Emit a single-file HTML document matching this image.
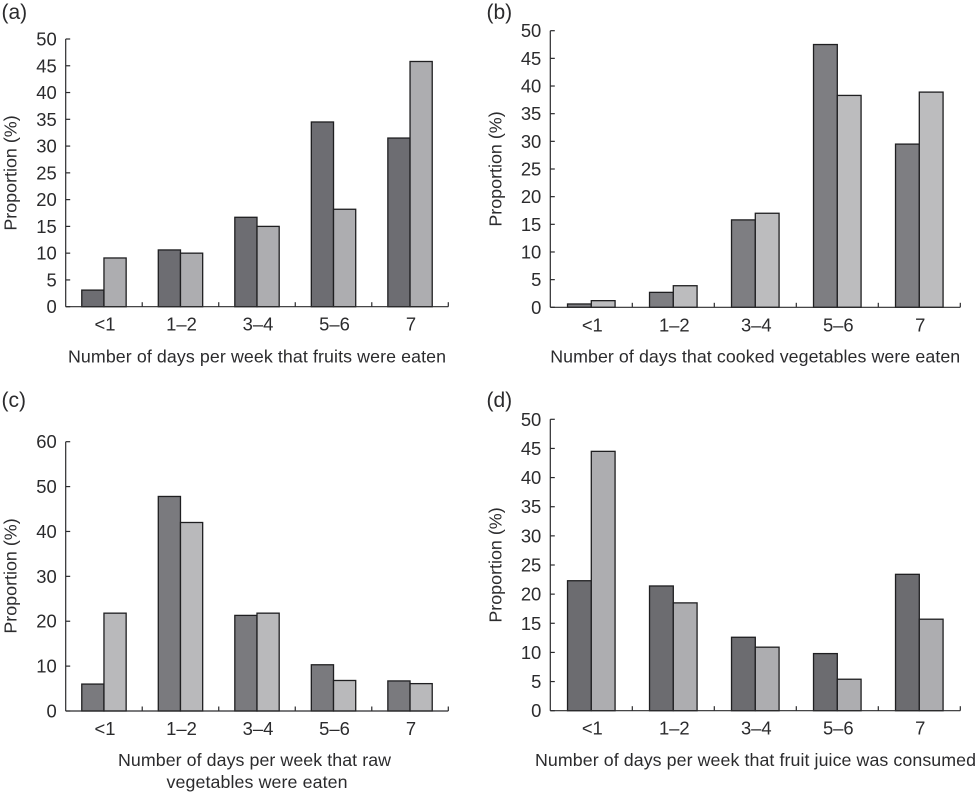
<!DOCTYPE html>
<html lang="en">
<head>
<meta charset="utf-8">
<title>Proportion of days per week foods were eaten</title>
<style>
html,body{margin:0;padding:0;background:#fff;width:977px;height:792px;overflow:hidden}
svg{display:block}
text{font-family:"Liberation Sans",sans-serif;fill:#2b2b2d}
</style>
</head>
<body>
<svg id="figure" xmlns="http://www.w3.org/2000/svg" width="977" height="792" viewBox="0 0 977 792"></svg>
<script>
const categories = ['<1', '1–2', '3–4', '5–6', '7'];
const ticksFiftyByFive = [0, 5, 10, 15, 20, 25, 30, 35, 40, 45, 50];
const ticksSixtyByTen = [0, 10, 20, 30, 40, 50, 60];
const fruitDark = [3.1, 10.6, 16.7, 34.5, 31.5];
const fruitLight = [9.1, 10, 15, 18.2, 45.8];
const cookedDark = [0.6, 2.7, 15.8, 47.5, 29.5];
const cookedLight = [1.2, 3.9, 17, 38.3, 38.9];
const rawDark = [6, 47.8, 21.3, 10.3, 6.7];
const rawLight = [21.8, 42, 21.8, 6.8, 6.1];
const juiceDark = [22.3, 21.4, 12.6, 9.8, 23.4];
const juiceLight = [44.5, 18.5, 10.9, 5.4, 15.7];

const NS = 'http://www.w3.org/2000/svg';
const root = document.getElementById('figure');

function make(parent, tag, attrs, content) {
  const el = document.createElementNS(NS, tag);
  for (const k in attrs) el.setAttribute(k, attrs[k]);
  if (content !== undefined) el.textContent = content;
  parent.appendChild(el);
  return el;
}

function drawPanel(p) {
  const g = make(root, 'g', {});
  
  

  const yMax = p.ticks[p.ticks.length - 1];
  const yScale = v => p.y0 - (v / yMax) * (p.y0 - p.yTop);
  const band = (p.x1 - p.x0) / categories.length;
  const bandCenter = i => p.x0 + band * (i + 0.5);
  const barW = band * 0.29;

  const letter = make(g, 'text', {x: p.letterX, y: p.letterY, 'font-size': 21}, '(' + p.id + ')');
  
  

  categories.forEach((c, i) => {
    const dark = make(g, 'rect', {
      x: bandCenter(i) - barW, y: yScale(p.dark[i]), width: barW,
      height: p.y0 - yScale(p.dark[i]), fill: p.darkFill, stroke: '#1f1f21', 'stroke-width': 1.3
    });
    
    

    const light = make(g, 'rect', {
      x: bandCenter(i), y: yScale(p.light[i]), width: barW,
      height: p.y0 - yScale(p.light[i]), fill: p.lightFill, stroke: '#1f1f21', 'stroke-width': 1.3
    });
    
    
  });

  const yAxis = make(g, 'line', {x1: p.x0, y1: p.yTop, x2: p.x0, y2: p.y0, stroke: '#2b2b2d', 'stroke-width': 1.2});
  
  

  const xAxis = make(g, 'line', {x1: p.x0, y1: p.y0, x2: p.x1, y2: p.y0, stroke: '#2b2b2d', 'stroke-width': 1.2});
  
  

  p.ticks.forEach(t => {
    const y = yScale(t);
    const tick = make(g, 'line', {x1: p.x0, y1: y, x2: p.x0 + 4.5, y2: y, stroke: '#2b2b2d', 'stroke-width': 1.2});
    
    

    const label = make(g, 'text', {x: p.x0 - 9, y: y + 6.5, 'font-size': 18.4, 'text-anchor': 'end'}, String(t));
    
    
  });

  categories.forEach((c, i) => {
    const tx = p.x0 + band * (i + 1);
    const tick = make(g, 'line', {x1: tx, y1: p.y0, x2: tx, y2: p.y0 - 4.5, stroke: '#2b2b2d', 'stroke-width': 1.2});
    
    

    const label = make(g, 'text', {x: bandCenter(i) + 1, y: p.y0 + 24, 'font-size': 18.4, 'text-anchor': 'middle'}, c);
    
    
  });

  const yTitle = make(g, 'text', {
    transform: 'translate(' + p.yTitleX + ',' + p.yTitleY + ') rotate(-90)',
    'font-size': 17.9, 'text-anchor': 'middle'
  }, 'Proportion (%)');
  
  

  p.xTitle.forEach(line => {
    const title = make(g, 'text', {
      x: line.x, y: line.y, 'font-size': 17.8, 'text-anchor': 'middle',
      textLength: line.w, lengthAdjust: 'spacing'
    }, line.text);
    
    
  });
}

drawPanel({
  id: 'a', x0: 65.7, x1: 448.3, y0: 306.7, yTop: 39, ticks: ticksFiftyByFive,
  dark: fruitDark, light: fruitLight, darkFill: '#6d6d72', lightFill: '#adadb0',
  letterX: 1.5, letterY: 19, yTitleX: 16.5, yTitleY: 173,
  xTitle: [{text: 'Number of days per week that fruits were eaten', x: 257, y: 362.5, w: 378}]
});
drawPanel({
  id: 'b', x0: 550.3, x1: 960.3, y0: 307.3, yTop: 30.7, ticks: ticksFiftyByFive,
  dark: cookedDark, light: cookedLight, darkFill: '#7e7e82', lightFill: '#bcbcbe',
  letterX: 486.5, letterY: 19, yTitleX: 501.5, yTitleY: 169,
  xTitle: [{text: 'Number of days that cooked vegetables were eaten', x: 755.2, y: 362.5, w: 410}]
});
drawPanel({
  id: 'c', x0: 65.7, x1: 448.3, y0: 711, yTop: 441.7, ticks: ticksSixtyByTen,
  dark: rawDark, light: rawLight, darkFill: '#7a7a7e', lightFill: '#b9b9bb',
  letterX: 1.5, letterY: 407, yTitleX: 16.5, yTitleY: 576,
  xTitle: [
    {text: 'Number of days per week that raw', x: 254.5, y: 766, w: 273},
    {text: 'vegetables were eaten', x: 257, y: 788, w: 181}
  ]
});
drawPanel({
  id: 'd', x0: 550.3, x1: 960.3, y0: 710.7, yTop: 419.3, ticks: ticksFiftyByFive,
  dark: juiceDark, light: juiceLight, darkFill: '#6c6c70', lightFill: '#adadb0',
  letterX: 486.5, letterY: 407, yTitleX: 501.5, yTitleY: 565,
  xTitle: [{text: 'Number of days per week that fruit juice was consumed', x: 755.5, y: 766, w: 441}]
});
</script>
</body>
</html>
